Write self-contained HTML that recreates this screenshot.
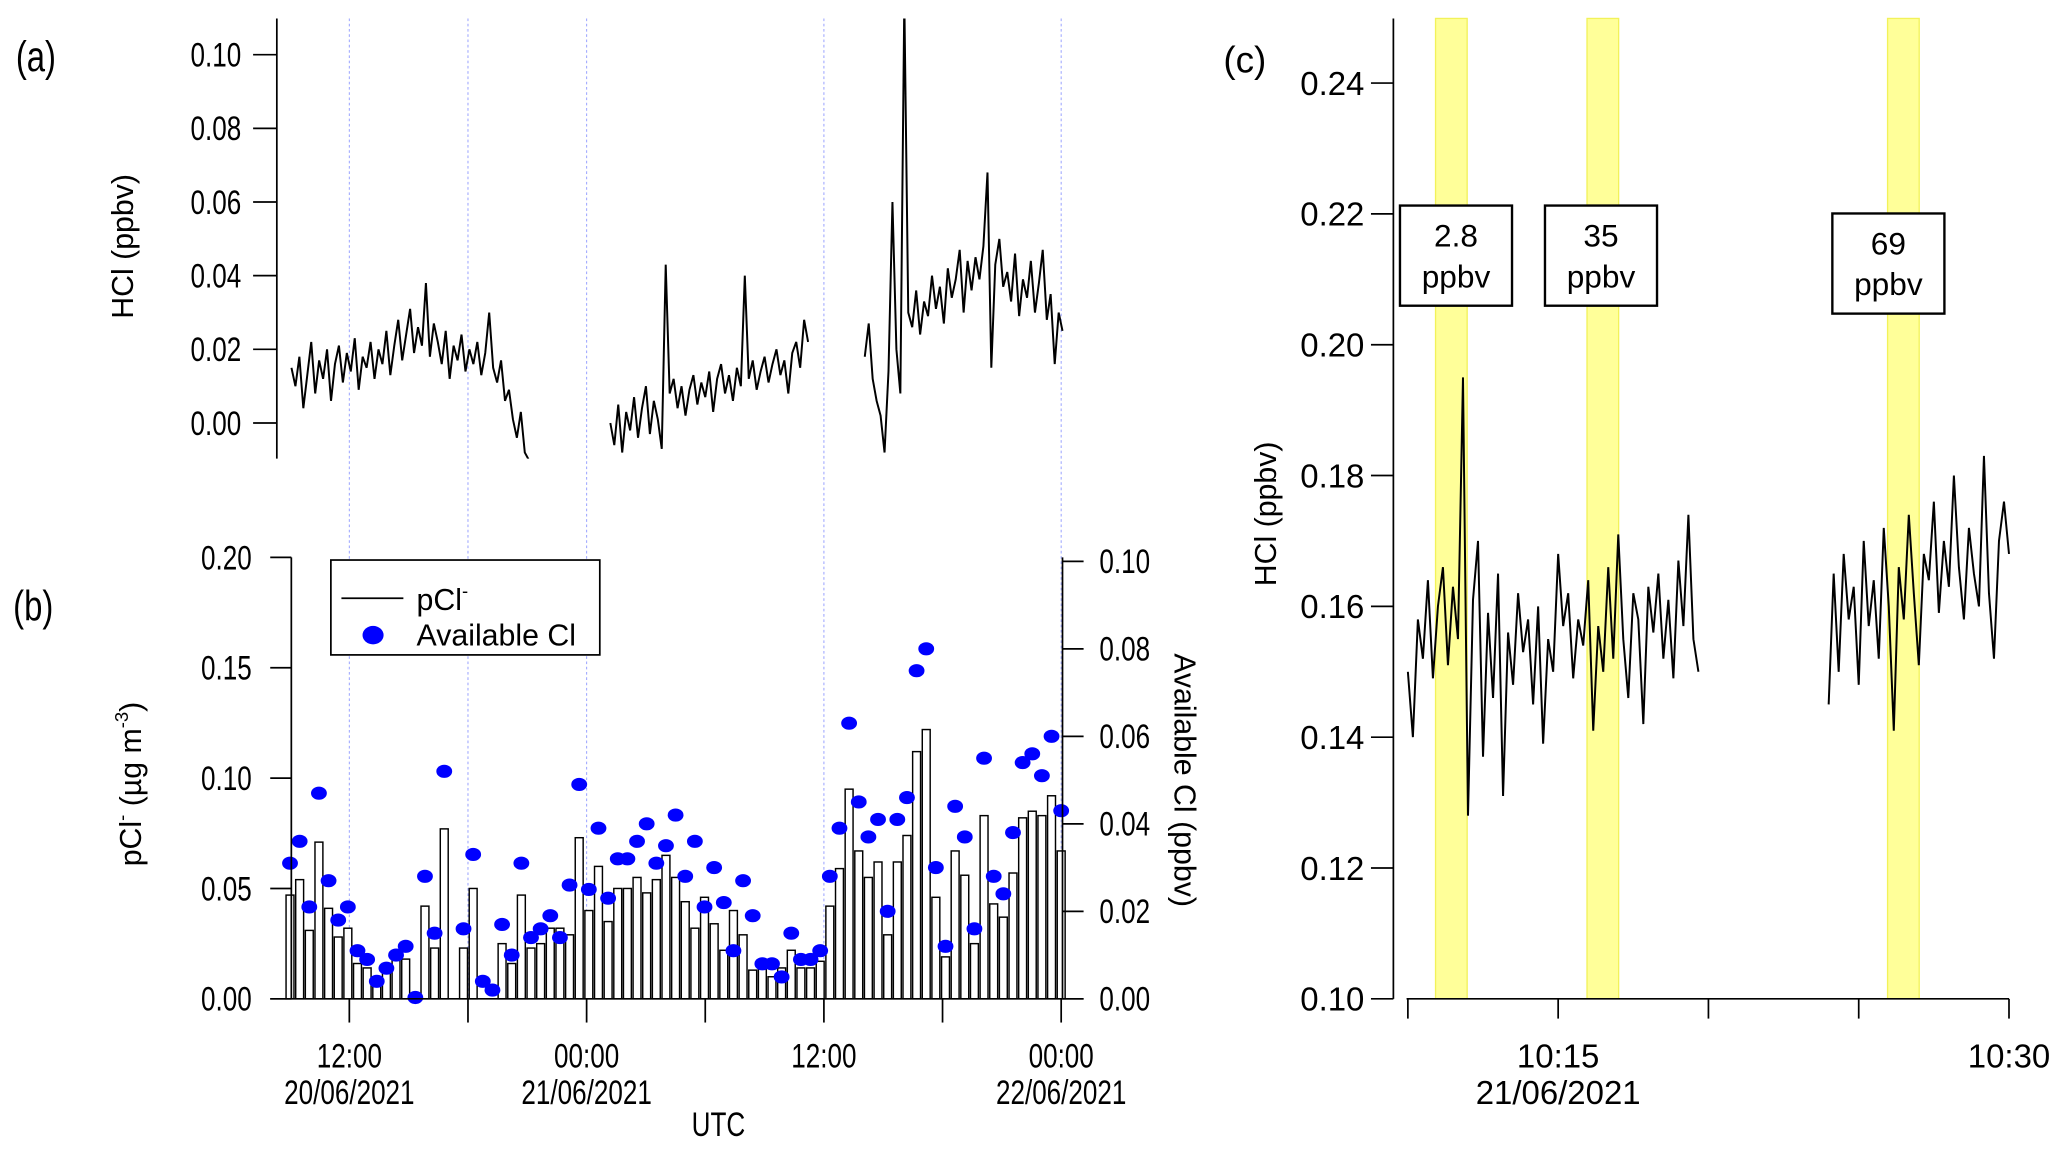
<!DOCTYPE html>
<html><head><meta charset="utf-8"><style>
html,body{margin:0;padding:0;background:#fff;}
svg{display:block;font-family:"Liberation Sans",sans-serif;}
</style></head><body>
<svg id="chart" width="2067" height="1153" viewBox="0 0 1568 875" preserveAspectRatio="none" xmlns="http://www.w3.org/2000/svg">
<defs>
<clipPath id="clipA"><rect x="210" y="14" width="600" height="334"/></clipPath>
<clipPath id="clipC"><rect x="1057" y="14" width="470" height="744"/></clipPath>
</defs>
<g id="gA"></g>
<g id="gB"></g>
<g id="gC"></g>
</svg>
<script>
// ---------- Data ----------
const hclA1Start = -2.93;
const hclA1 = [0.015,0.010,0.018,0.004,0.013,0.022,0.008,0.017,0.012,0.020,
0.006,0.016,0.021,0.011,0.019,0.014,0.023,0.009,0.018,0.015,
0.022,0.012,0.020,0.016,0.025,0.013,0.021,0.028,0.017,0.024,
0.031,0.019,0.026,0.021,0.038,0.018,0.027,0.022,0.016,0.025,
0.012,0.021,0.017,0.024,0.014,0.020,0.016,0.022,0.013,0.019,
0.030,0.015,0.011,0.017,0.006,0.009,0.001,-0.004,0.003,-0.008,-0.010];
const hclA2Start = 13.2;
const hclA2 = [0.000,-0.006,0.005,-0.008,0.003,-0.002,0.007,-0.004,0.004,0.010,
-0.003,0.006,0.001,-0.007,0.043,0.008,0.012,0.004,0.010,0.002,
0.009,0.013,0.005,0.011,0.007,0.014,0.003,0.012,0.016,0.008,
0.013,0.006,0.015,0.010,0.040,0.012,0.017,0.009,0.014,0.018,
0.011,0.016,0.020,0.013,0.017,0.008,0.019,0.022,0.015,0.028,0.022];
const hclA3Start = 26.07;
const hclA3 = [0.018,0.027,0.012,0.006,0.002,-0.008,0.014,0.060,0.020,0.008,
0.115,0.030,0.026,0.036,0.024,0.033,0.029,0.040,0.031,0.037,
0.027,0.042,0.034,0.039,0.047,0.030,0.044,0.036,0.045,0.039,
0.048,0.068,0.015,0.043,0.050,0.037,0.041,0.033,0.046,0.029,
0.039,0.034,0.044,0.030,0.038,0.047,0.028,0.035,0.016,0.030,0.025];
const hclAStep = 0.2;
const aTicks = [0,0.02,0.04,0.06,0.08,0.10];
const aTickLabels = ["0.00","0.02","0.04","0.06","0.08","0.10"];

const bStart = -3;
const bEnd = 36;
const pCl = [0.047,0.054,0.031,0.071,0.041,0.028,0.032,0.016,0.014,0.010,
0.015,0.018,0.018,0.0,0.042,0.023,0.077,0.0,0.023,0.050,
0.0,0.0,0.025,0.016,0.047,0.023,0.025,0.032,0.032,0.029,
0.073,0.040,0.060,0.035,0.050,0.050,0.055,0.048,0.054,0.065,
0.055,0.044,0.032,0.046,0.034,0.022,0.040,0.029,0.013,0.015,
0.010,0.014,0.022,0.014,0.014,0.017,0.042,0.059,0.095,0.067,
0.055,0.062,0.029,0.062,0.074,0.112,0.122,0.046,0.019,0.067,
0.056,0.025,0.083,0.043,0.037,0.057,0.082,0.085,0.083,0.092,0.067];
const availCl = [0.031,0.036,0.021,0.047,0.027,0.018,0.021,0.011,0.009,0.004,
0.007,0.010,0.012,0.0003,0.028,0.015,0.052,null,0.016,0.033,
0.004,0.002,0.017,0.010,0.031,0.014,0.016,0.019,0.014,0.026,
0.049,0.025,0.039,0.023,0.032,0.032,0.036,0.040,0.031,0.035,
0.042,0.028,0.036,0.021,0.030,0.022,0.011,0.027,0.019,0.008,
0.008,0.005,0.015,0.009,0.009,0.011,0.028,0.039,0.063,0.045,
0.037,0.041,0.020,0.041,0.046,0.075,0.080,0.030,0.012,0.044,
0.037,0.016,0.055,0.028,0.024,0.038,0.054,0.056,0.051,0.060,0.043];
const bLeftTicks = [0,0.05,0.10,0.15,0.20];
const bLeftLabels = ["0.00","0.05","0.10","0.15","0.20"];
const bRightTicks = [0,0.02,0.04,0.06,0.08,0.10];
const bRightLabels = ["0.00","0.02","0.04","0.06","0.08","0.10"];
const xTickHours = [0,6,12,18,24,30,36];
const xLabelHours = [0,12,24,36];
const xLabelTimes = ["12:00","00:00","12:00","00:00"];
const xLabelDates = ["20/06/2021","21/06/2021","","22/06/2021"];
const gridHours = [0,6,12,24,36];

const hclC1Start = 0;
const hclC1 = [0.150,0.140,0.158,0.152,0.164,0.149,0.160,0.166,0.151,0.163,
0.155,0.195,0.128,0.161,0.170,0.137,0.159,0.146,0.165,0.131,
0.156,0.148,0.162,0.153,0.158,0.145,0.160,0.139,0.155,0.150,
0.168,0.157,0.162,0.149,0.158,0.154,0.164,0.141,0.157,0.150,
0.166,0.152,0.171,0.155,0.146,0.162,0.158,0.142,0.163,0.156,
0.165,0.152,0.161,0.149,0.167,0.157,0.174,0.155,0.150];
const hclC2Start = 14.0;
const hclC2 = [0.145,0.165,0.150,0.168,0.158,0.163,0.148,0.170,0.157,0.164,
0.152,0.172,0.160,0.141,0.166,0.158,0.174,0.162,0.151,0.168,
0.164,0.176,0.159,0.170,0.163,0.180,0.166,0.158,0.172,0.165,
0.160,0.183,0.162,0.152,0.170,0.176,0.168];
const hclCStep = 1/6;
const cTicks = [0.10,0.12,0.14,0.16,0.18,0.20,0.22,0.24];
const cTickLabels = ["0.10","0.12","0.14","0.16","0.18","0.20","0.22","0.24"];
const cXTicks = [0,5,10,15,20];
const bandStarts = [0.92,5.96,15.96];
const bandLabels = ["2.8","35","69"];

// ---------- Helpers ----------
const NS = "http://www.w3.org/2000/svg";
function mk(parent, tag, attrs, text){
  const e = document.createElementNS(NS, tag);
  for (const k in attrs) e.setAttribute(k, attrs[k]);
  if (text !== undefined) e.textContent = text;
  parent.appendChild(e);
  return e;
}
const xT = h => 265 + 15*h;
const yA = v => 321 - v*2795;
const yBL = v => 758 - v*1675;
const yBR = v => 758 - v*3320;
const xC = m => 1068 + 22.8*m;
const yC = v => 758 - (v-0.10)*4964;
const NF = 'font-size:23px;';

const gA = document.getElementById('gA');
const gB = document.getElementById('gB');
const gC = document.getElementById('gC');
const root = document.getElementById('chart');

const gridG = mk(root,'g',{});


gridHours.forEach(h=>{
  mk(gridG,'line',{x1:xT(h),x2:xT(h),y1:14,y2:758,stroke:'#9da6ff','stroke-width':0.8,'stroke-dasharray':'2,2'});
});
root.insertBefore(gridG, gA);

function narrowText(parent, x, y, str, anchor, size){
  // condensed font look
  const e = mk(parent,'text',{x:0,y:0,'font-size':size,'text-anchor':anchor,transform:`translate(${x},${y}) scale(0.86,1.12)`},str);
  return e;
}

// ---------- Panel a ----------
let t = narrowText(gA,12,54,'(a)','start',29);
 
let ax = mk(gA,'line',{x1:210,x2:210,y1:14,y2:348,stroke:'#000','stroke-width':1.3});
 
aTicks.forEach((v,i)=>{
  mk(gA,'line',{x1:192,x2:210,y1:yA(v),y2:yA(v),stroke:'#000','stroke-width':1.3});
  const tl = narrowText(gA,183,yA(v)+9,aTickLabels[i],'end',23);
   
});
t = mk(gA,'text',{x:0,y:0,'font-size':23,'text-anchor':'middle',transform:'translate(101,187) rotate(-90)'},'HCl (ppbv)');
 
[[hclA1Start,hclA1],[hclA2Start,hclA2],[hclA3Start,hclA3]].forEach(([s,arr])=>{
  const pts = arr.map((v,i)=>xT(s+i*hclAStep).toFixed(1)+','+yA(v).toFixed(1)).join(' ');
  const p = mk(gA,'polyline',{points:pts,fill:'none',stroke:'#000','stroke-width':1.5,'clip-path':'url(#clipA)'});
   
});

// ---------- Panel b ----------
t = narrowText(gB,10,471,'(b)','start',29);
 
const bStepP = (bEnd-bStart)/(pCl.length-1);
const bStepA = (bEnd-bStart)/(availCl.length-1);
pCl.forEach((v,i)=>{
  const h = bStart + i*bStepP;
  const r = mk(gB,'rect',{x:xT(h)-3,y:yBL(v),width:6,height:758-yBL(v),fill:'#fff',stroke:'#000','stroke-width':1.1});
   
});
availCl.forEach((v,i)=>{
  if (v===null) return;
  const h = bStart + i*bStepA;
  const c = mk(gB,'ellipse',{cx:xT(h),cy:yBR(v),rx:6,ry:5,fill:'#0000ff'});
   
});
ax = mk(gB,'line',{x1:221,x2:221,y1:423,y2:758,stroke:'#000','stroke-width':1.3});
 
ax = mk(gB,'line',{x1:806,x2:806,y1:423,y2:758,stroke:'#000','stroke-width':1.3});
 
ax = mk(gB,'line',{x1:205,x2:822,y1:758,y2:758,stroke:'#000','stroke-width':1.3});
 
bLeftTicks.forEach((v,i)=>{
  mk(gB,'line',{x1:205,x2:221,y1:yBL(v),y2:yBL(v),stroke:'#000','stroke-width':1.3});
  const tl = narrowText(gB,191,yBL(v)+9,bLeftLabels[i],'end',23);
   
});
bRightTicks.forEach((v,i)=>{
  mk(gB,'line',{x1:806,x2:822,y1:yBR(v),y2:yBR(v),stroke:'#000','stroke-width':1.3});
  const tl = narrowText(gB,834,yBR(v)+9,bRightLabels[i],'start',23);
   
});
xTickHours.forEach(h=>{
  mk(gB,'line',{x1:xT(h),x2:xT(h),y1:758,y2:776,stroke:'#000','stroke-width':1.3});
});
xLabelHours.forEach((h,i)=>{
  const a = narrowText(gB,xT(h),810,xLabelTimes[i],'middle',23);
   
  if (xLabelDates[i]) {
    const d = narrowText(gB,xT(h),838,xLabelDates[i],'middle',23);
     
  }
});
t = narrowText(gB,545,862,'UTC','middle',23);
 
t = mk(gB,'text',{x:0,y:0,'font-size':23,'text-anchor':'middle',transform:'translate(107,595) rotate(-90)'});
 
t.innerHTML = 'pCl<tspan dy="-10" font-size="14">-</tspan><tspan dy="10"> (µg m</tspan><tspan dy="-10" font-size="14">-3</tspan><tspan dy="10">)</tspan>';
t = mk(gB,'text',{x:0,y:0,'font-size':23,'text-anchor':'middle',transform:'translate(891,592) rotate(90)'},'Available Cl (ppbv)');
 
const leg = mk(gB,'g',{});
 
mk(leg,'rect',{x:251,y:425,width:204,height:72,fill:'#fff',stroke:'#000','stroke-width':1.3});
mk(leg,'line',{x1:259,x2:306,y1:454,y2:454,stroke:'#000','stroke-width':1.3});
t = mk(leg,'text',{x:316,y:463,'font-size':23});
 
t.innerHTML = 'pCl<tspan dy="-10" font-size="14">-</tspan>';
mk(leg,'ellipse',{cx:283,cy:482,rx:8,ry:7,fill:'#0000ff'});
t = mk(leg,'text',{x:316,y:490,'font-size':23},'Available Cl');
 

// ---------- Panel c ----------
t = mk(gC,'text',{x:928,y:55,'font-size':28},'(c)');
 
bandStarts.forEach(m=>{
  const r = mk(gC,'rect',{x:xC(m),y:14,width:24,height:744,fill:'#ffff99',stroke:'#f2f25a','stroke-width':1});
   
});
[[hclC1Start,hclC1],[hclC2Start,hclC2]].forEach(([s,arr])=>{
  const pts = arr.map((v,i)=>xC(s+i*hclCStep).toFixed(1)+','+yC(v).toFixed(1)).join(' ');
  const p = mk(gC,'polyline',{points:pts,fill:'none',stroke:'#000','stroke-width':1.5,'clip-path':'url(#clipC)'});
   
});
const boxes = [[1062,156],[1172,156],[1390,162]];
bandLabels.forEach((lab,i)=>{
  const g = mk(gC,'g',{});
   
  const [bx,by] = boxes[i];
  mk(g,'rect',{x:bx,y:by,width:85,height:76,fill:'#fff',stroke:'#000','stroke-width':1.8});
  mk(g,'text',{x:bx+42.5,y:by+31,'font-size':24,'text-anchor':'middle'},lab);
  mk(g,'text',{x:bx+42.5,y:by+62,'font-size':24,'text-anchor':'middle'},'ppbv');
});
ax = mk(gC,'line',{x1:1057,x2:1057,y1:14,y2:758,stroke:'#000','stroke-width':1.3});
 
ax = mk(gC,'line',{x1:1067,x2:1524,y1:758,y2:758,stroke:'#000','stroke-width':1.3});
 
cTicks.forEach((v,i)=>{
  mk(gC,'line',{x1:1040,x2:1057,y1:yC(v),y2:yC(v),stroke:'#000','stroke-width':1.3});
  const tl = mk(gC,'text',{x:1035,y:yC(v)+9,'font-size':25,'text-anchor':'end'},cTickLabels[i]);
   
});
cXTicks.forEach(m=>{
  mk(gC,'line',{x1:xC(m),x2:xC(m),y1:758,y2:773,stroke:'#000','stroke-width':1.3});
});
t = mk(gC,'text',{x:xC(5),y:810,'font-size':25,'text-anchor':'middle'},'10:15');
 
t = mk(gC,'text',{x:xC(5),y:838,'font-size':25,'text-anchor':'middle'},'21/06/2021');
 
t = mk(gC,'text',{x:xC(20),y:810,'font-size':25,'text-anchor':'middle'},'10:30');
 
t = mk(gC,'text',{x:0,y:0,'font-size':23,'text-anchor':'middle',transform:'translate(968,390) rotate(-90)'},'HCl (ppbv)');
 
</script>
</body></html>
